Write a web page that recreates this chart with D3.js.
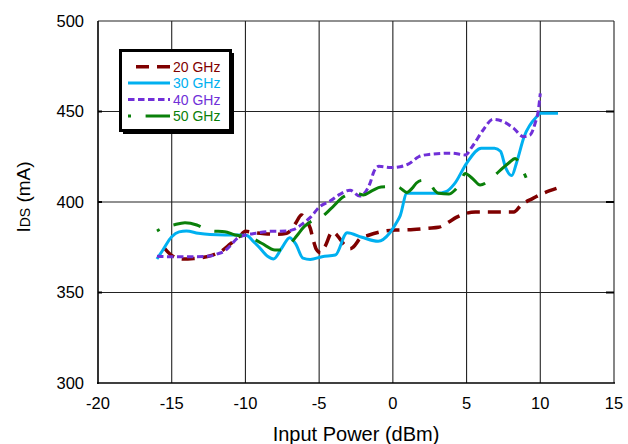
<!DOCTYPE html>
<html>
<head>
<meta charset="utf-8">
<script src="https://cdn.jsdelivr.net/npm/d3@7/dist/d3.min.js"></script>
<style>
  html, body { margin: 0; padding: 0; background: #fff; }
  svg { display: block; }
  text { font-family: "Liberation Sans", Arial, sans-serif; }
</style>
</head>
<body>
<svg id="chart" width="628" height="444"></svg>
<script>
// Drain current vs. input power, measured at four frequencies
const xTicks = [-20, -15, -10, -5, 0, 5, 10, 15];
const yTicks = [300, 350, 400, 450, 500];
const seriesNames = ["20 GHz", "30 GHz", "40 GHz", "50 GHz"];

// [input power (dBm), IDS (mA)]
const ids20 = [[-15.5,374.5],[-15.0,370.5],[-14.2,368.5],[-13.5,368.8],[-13.0,369.2],[-12.3,370.5],
  [-11.7,372.5],[-11.0,377],[-10.4,381],[-10.0,383.8],[-9.4,383],[-8.7,382.5],[-7.8,382.2],[-7.2,382.7],
  [-6.6,388.2],[-6.2,392.8],[-5.9,390],[-5.6,385.5],[-5.4,379],[-5.2,374],[-4.9,372],[-4.6,375.5],
  [-4.1,383.6],[-3.8,381.8],[-3.3,376.5],[-2.9,374.2],[-2.7,375],[-2.2,380],[-1.7,381.5],[-0.8,383.6],
  [0.2,384.5],[1.4,384.8],[2.4,385.5],[3.1,386],[3.8,389],[4.3,391.5],[5.0,393.8],[5.6,394.5],
  [8.2,394.5],[8.7,398.3],[9.5,402],[10.2,404.8],[11.1,407.5]];

const ids30 = [[-16.0,368.5],[-15.6,373.5],[-15.0,380.8],[-14.5,383.5],[-14.0,384],[-13.2,382.7],
  [-12.4,382],[-11.4,381.8],[-10.5,381.8],[-9.9,381.5],[-9.5,378.5],[-9.1,375.3],[-8.5,370],[-8.1,368.5],
  [-7.5,375],[-7.0,380.3],[-6.6,377],[-6.1,369],[-5.6,368.3],[-4.8,369.8],[-3.9,370.7],[-3.1,383],
  [-2.1,380.5],[-1.0,378.3],[-0.2,383],[0.2,388],[0.5,392.5],[0.95,404.8],[3.0,404.8],[3.6,405.7],
  [4.2,410.3],[5.0,421.4],[6.0,429.7],[6.9,429.7],[7.3,428],[7.65,419],[8.06,414.6],[8.4,422],
  [8.9,436],[9.8,447.5],[10.0,449],[11.2,449]];

const ids40 = [[-16.0,370],[-15.3,369.8],[-14.2,369.8],[-13.3,369.8],[-12.4,370.1],[-11.95,371.2],
  [-11.4,373],[-10.9,377],[-10.6,379.6],[-10.0,381.8],[-9.5,382.5],[-8.3,383.8],[-7.2,384],[-6.75,384.7],
  [-6.2,387.5],[-5.6,391.5],[-4.95,397.5],[-4.26,400.5],[-3.6,404.2],[-2.9,406.5],[-2.25,403.3],
  [-1.55,410.3],[-1.3,416.5],[-0.95,419.7],[-0.15,419],[0.5,419.5],[1.15,421.4],[1.75,425],[2.45,426.3],
  [4.0,427],[4.9,426],[5.4,430.8],[6.1,439.5],[6.8,445.7],[7.5,444.4],[8.2,440.7],[8.85,436.1],
  [9.3,437],[9.65,443.5],[9.87,450.8],[10.0,460]];

const ids50 = [[-16.0,384],[-15.5,386],[-14.9,387.3],[-14.1,388.6],[-13.3,387.3],[-12.8,385.5],
  [-12.3,384],[-11.4,383.6],[-10.7,381.8],[-10.3,381.3],[-9.8,380.8],[-8.9,377.2],[-8.0,373.5],
  [-7.5,373.5],[-7.0,376.5],[-6.5,381.5],[-6.0,386.5],[-5.6,389],[-5.2,390.5],[-4.8,392],[-4.2,396.3],
  [-3.35,402.9],[-2.9,404.5],[-2.45,404.8],[-2.0,403.9],[-1.4,406.3],[-0.8,408.3],[-0.2,408.5],
  [0.35,408.3],[0.95,405.3],[1.3,407.5],[1.6,410.5],[2.0,412],[2.42,411.2],[2.85,406.3],[3.1,404.8],
  [3.8,404.4],[4.2,406.5],[4.56,410.3],[4.9,415.8],[5.4,413],[5.92,409.4],[6.4,411],[6.93,414.9],
  [7.84,421.4],[8.3,424.1],[8.6,421],[9.04,413.4]];

const seriesData = [ids20, ids30, ids40, ids50];
const seriesStyle = [
  { color: "#7f0000", width: 3.5, dash: "13,8", offset: 0, legendFrom: 136 },
  { color: "#00b0f0", width: 3,   dash: null,   offset: 0, legendFrom: 128 },
  { color: "#7030d8", width: 3,   dash: "6.5,3.5", offset: 0, legendFrom: 128 },
  { color: "#0a800a", width: 3,   dash: "28,14.6", offset: 25, legendFrom: 128 }
];

const svg = d3.select("#chart");
const plot = { left: 98, right: 614, top: 21, bottom: 383 };

const x = d3.scaleLinear().domain([-20, 15]).range([plot.left, plot.right]);
const y = d3.scaleLinear().domain([300, 500]).range([plot.bottom, plot.top]);

// Grid
const grid = svg.append("g").attr("stroke", "#222").attr("stroke-width", 1.1);
grid.selectAll(".gx").data(xTicks.slice(1)).join("line")
  .attr("x1", d => x(d)).attr("x2", d => x(d))
  .attr("y1", plot.top).attr("y2", plot.bottom);
grid.selectAll(".gy").data(yTicks.slice(1)).join("line")
  .attr("x1", plot.left).attr("x2", plot.right)
  .attr("y1", d => y(d)).attr("y2", d => y(d));

// Inner tick marks on the left and right edges
const ticks = svg.append("g").attr("stroke", "#000").attr("stroke-width", 2);
ticks.selectAll(".tl").data(yTicks.slice(1, -1)).join("line")
  .attr("x1", plot.left).attr("x2", plot.left + 4)
  .attr("y1", d => y(d)).attr("y2", d => y(d));
ticks.selectAll(".tr").data(yTicks.slice(1, -1)).join("line")
  .attr("x1", plot.right - 8).attr("x2", plot.right)
  .attr("y1", d => y(d)).attr("y2", d => y(d));

// Axis lines
svg.append("line").attr("x1", plot.left).attr("x2", plot.left)
  .attr("y1", plot.top).attr("y2", plot.bottom + 1)
  .attr("stroke", "#000").attr("stroke-width", 1.6);
svg.append("line").attr("x1", plot.left - 1).attr("x2", plot.right + 1)
  .attr("y1", plot.bottom).attr("y2", plot.bottom)
  .attr("stroke", "#000").attr("stroke-width", 1.6);

// Tick labels
svg.append("g").selectAll("text").data(xTicks).join("text")
  .attr("x", d => x(d)).attr("y", 409)
  .attr("text-anchor", "middle").attr("font-size", 16.5).attr("fill", "#000")
  .text(d => d);
svg.append("g").selectAll("text").data(yTicks).join("text")
  .attr("x", 84).attr("y", d => y(d)).attr("dy", "0.36em")
  .attr("text-anchor", "end").attr("font-size", 16.5).attr("fill", "#000")
  .text(d => d);

// Axis titles
svg.append("text").attr("x", (plot.left + plot.right) / 2).attr("y", 441)
  .attr("text-anchor", "middle").attr("font-size", 20).attr("fill", "#000")
  .text("Input Power (dBm)");

const yTitle = svg.append("text")
  .attr("transform", "translate(30,197) rotate(-90)")
  .attr("text-anchor", "middle").attr("font-size", 19).attr("fill", "#000");
yTitle.append("tspan").text("I");
yTitle.append("tspan").attr("font-size", 14).text("DS");
yTitle.append("tspan").text(" (mA)");

// Series
const line = d3.line().x(d => x(d[0])).y(d => y(d[1])).curve(d3.curveMonotoneX);
svg.append("clipPath").attr("id", "plotclip").append("rect")
  .attr("x", plot.left).attr("y", plot.top)
  .attr("width", plot.right - plot.left).attr("height", plot.bottom - plot.top);

const seriesG = svg.append("g").attr("clip-path", "url(#plotclip)");
seriesData.forEach((data, i) => {
  const s = seriesStyle[i];
  seriesG.append("path")
    .attr("d", line(data))
    .attr("fill", "none")
    .attr("stroke", s.color)
    .attr("stroke-width", s.width)
    .attr("stroke-linejoin", "round")
    .attr("stroke-dasharray", s.dash)
    .attr("stroke-dashoffset", s.offset);
});

// Legend
const legend = svg.append("g");
legend.append("rect").attr("x", 123).attr("y", 53).attr("width", 111).attr("height", 81).attr("fill", "#000");
legend.append("rect").attr("x", 120.5).attr("y", 50.5).attr("width", 110).attr("height", 80)
  .attr("fill", "#fff").attr("stroke", "#000").attr("stroke-width", 3);

seriesNames.forEach((name, i) => {
  const s = seriesStyle[i];
  const ly = 66.7 + i * 16.4;
  legend.append("line")
    .attr("x1", s.legendFrom).attr("x2", 170).attr("y1", ly).attr("y2", ly)
    .attr("stroke", s.color).attr("stroke-width", s.width)
    .attr("stroke-dasharray", s.dash).attr("stroke-dashoffset", s.offset);
  legend.append("text").attr("x", 173).attr("y", ly).attr("dy", "0.36em")
    .attr("font-size", 14).attr("fill", s.color).text(name);
});
</script>
</body>
</html>
